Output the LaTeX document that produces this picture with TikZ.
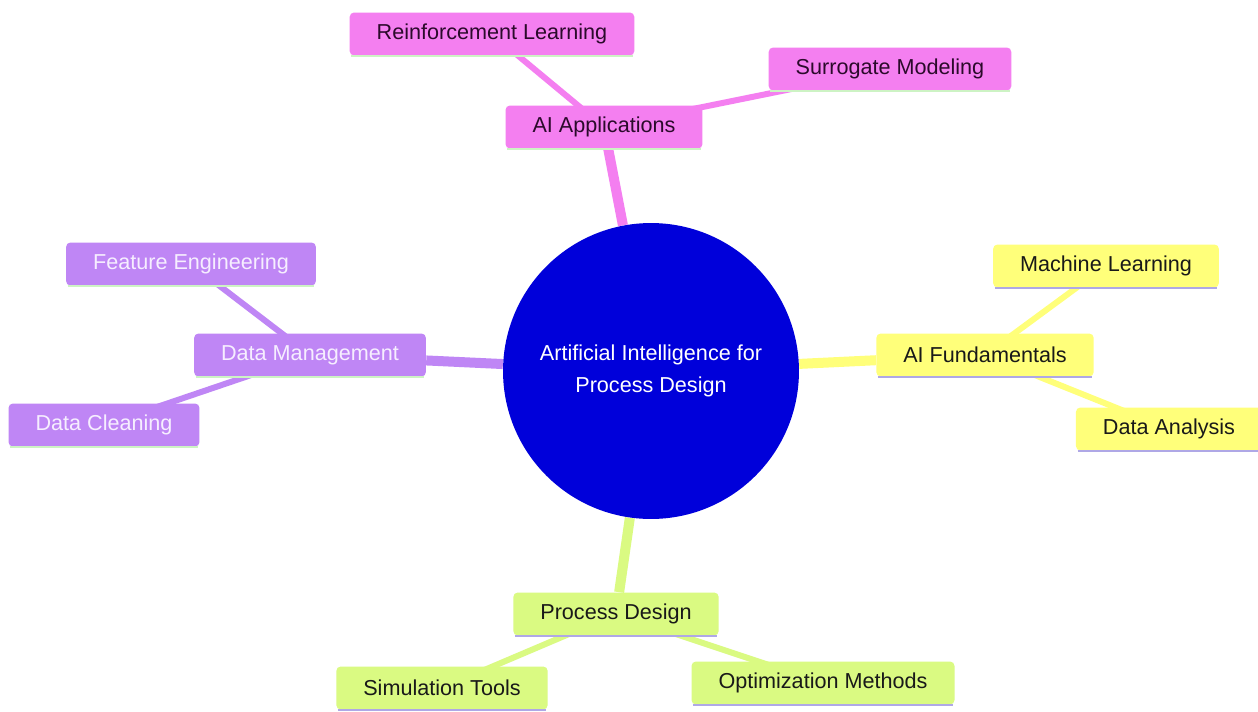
\documentclass[tikz,border=0pt]{standalone}
\usepackage{fontspec}
\setmainfont{Liberation Sans}
\usepackage{xcolor}
\usetikzlibrary{calc}
\usetikzlibrary{backgrounds}

\definecolor{pinkfill}{HTML}{F47FF0}
\definecolor{purplefill}{HTML}{BF86F5}
\definecolor{yellowfill}{HTML}{FFFF7A}
\definecolor{greenfill}{HTML}{DAFA82}
\definecolor{centerblue}{HTML}{0000DA}
\definecolor{ulgreen}{HTML}{CDF3C4}
\definecolor{ullavender}{HTML}{AFA8E6}
\definecolor{pinktext}{HTML}{2B0A2B}
\definecolor{purpletext}{HTML}{F6EEFF}

\tikzset{
  topic/.style={rectangle, rounded corners=2.5pt, inner xsep=0.54cm, minimum height=0.86cm, font=\fontsize{12.3}{14}\selectfont},
  pinkbox/.style={topic, fill=pinkfill, text=pinktext},
  purplebox/.style={topic, fill=purplefill, text=purpletext},
  yellowbox/.style={topic, fill=yellowfill, text=black!90},
  greenbox/.style={topic, fill=greenfill, text=black!90},
  mainedge/.style={line width=0.2cm},
  subedge/.style={line width=0.12cm},
}

\begin{document}
\begin{tikzpicture}[x=0.02cm, y=-0.02cm]
    \useasboundingbox (0,0) rectangle (1258,711);

    % center
    \node[circle, fill=centerblue, minimum size=5.92cm, inner sep=0pt, text=white, align=center,
          font=\fontsize{12.3}{18}\selectfont] (root) at (651,371) {Artificial Intelligence for\\Process Design};

    % branches
    \node[pinkbox] (aiapp) at (604,127) {AI Applications};
    \node[pinkbox] (reinf) at (492,34) {Reinforcement Learning};
    \node[pinkbox] (surr) at (890,69) {Surrogate Modeling};

    \node[purplebox] (dataman) at (310,355) {Data Management};
    \node[purplebox] (feat) at (191,264) {Feature Engineering};
    \node[purplebox] (clean) at (104,425) {Data Cleaning};

    \node[yellowbox] (aifund) at (985,355) {AI Fundamentals};
    \node[yellowbox] (ml) at (1106,266) {Machine Learning};
    \node[yellowbox] (analysis) at (1169,429) {Data Analysis};

    \node[greenbox] (procdes) at (616,614) {Process Design};
    \node[greenbox] (sim) at (442,688) {Simulation Tools};
    \node[greenbox] (optim) at (823,683) {Optimization Methods};

    % underlines
    \foreach \n in {aiapp, reinf, surr, dataman, feat, clean}
      \draw[ulgreen, line width=0.05cm] ($(\n.south west)+(2,0)$) -- ($(\n.south east)+(-2,0)$);
    \foreach \n in {aifund, ml, analysis, procdes, sim, optim}
      \draw[ullavender, line width=0.05cm] ($(\n.south west)+(2,0)$) -- ($(\n.south east)+(-2,0)$);

    % edges behind the boxes
    \begin{scope}[on background layer]
      \fill[white] (0,0) rectangle (1258,711);

      \draw[mainedge, pinkfill] (root) -- (aiapp);
      \draw[mainedge, purplefill] (root) -- (dataman);
      \draw[mainedge, yellowfill] (root) -- (aifund);
      \draw[mainedge, greenfill] (root) -- (procdes);

      \draw[subedge, pinkfill] (aiapp.center) -- (reinf.center);
      \draw[subedge, pinkfill] (aiapp.center) -- (surr.center);
      \draw[subedge, purplefill] (dataman.center) -- (feat.center);
      \draw[subedge, purplefill] (dataman.center) -- (clean.center);
      \draw[subedge, yellowfill] (aifund.center) -- (ml.center);
      \draw[subedge, yellowfill] (aifund.center) -- (analysis.center);
      \draw[subedge, greenfill] (procdes.center) -- (sim.center);
      \draw[subedge, greenfill] (procdes.center) -- (optim.center);
    \end{scope}
\end{tikzpicture}
\end{document}
